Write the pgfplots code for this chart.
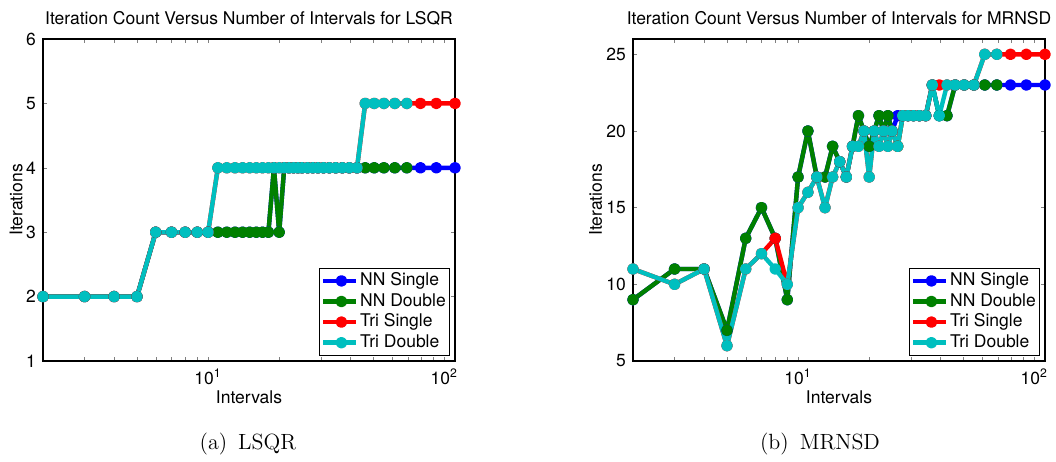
\documentclass[border=0pt]{standalone}
\usepackage{fontspec}
\usepackage{pgfplots}
\usepackage{pgfplotstable}
\pgfplotsset{compat=1.18}

\newfontfamily\helv{TeX Gyre Heros}
\newcommand{\axfont}{\helv\fontsize{8.75}{10.5}\selectfont}

\definecolor{mblue}{rgb}{0,0,1}
\definecolor{mgreen}{rgb}{0,0.5,0}
\definecolor{mred}{rgb}{1,0,0}
\definecolor{mcyan}{rgb}{0,0.75,0.75}

% iteration counts, LSQR
\pgfplotstableread{
x      nns nnd tris trid
2      2   2   2    2
3      2   2   2    2
4      2   2   2    2
5      2   2   2    2
6      3   3   3    3
7      3   3   3    3
8      3   3   3    3
9      3   3   3    3
10     3   3   3    3
11     3   3   4    4
12     3   3   4    4
13     3   3   4    4
14     3   3   4    4
15     3   3   4    4
16     3   3   4    4
17     3   3   4    4
18     3   3   4    4
19     4   4   4    4
20     3   3   4    4
21     4   4   4    4
22     4   4   4    4
23     4   4   4    4
24     4   4   4    4
25     4   4   4    4
26.4   4   4   4    4
27.75  4   4   4    4
29.2   4   4   4    4
30.8   4   4   4    4
32.6   4   4   4    4
34.7   4   4   4    4
37     4   4   4    4
39.6   4   4   4    4
42.7   4   4   4    4
46.25  4   4   5    5
50.5   4   4   5    5
55.5   4   4   5    5
61.7   4   4   5    5
69.4   4   4   5    5
79.3   4   nan 5    nan
92.5   4   nan 5    nan
111    4   nan 5    nan
}\lsqr

% iteration counts, MRNSD
\pgfplotstableread{
x      nns nnd tris trid
2      9   9   11   11
3      11  11  10   10
4      11  11  11   11
5      7   7   6    6
6      13  13  11   11
7      15  15  12   12
8      13  13  13   11
9      9   9   10   10
10     17  17  15   15
11     20  20  16   16
12     17  17  17   17
13     17  17  15   15
14     19  19  17   17
15     18  18  18   18
16     17  17  17   17
17     19  19  19   19
18     21  21  19   19
19     20  20  20   20
20     19  19  17   17
21     20  20  20   20
22     21  21  19   19
23     20  20  20   20
24     21  21  19   19
25     20  20  20   20
26.4   21  19  19   19
27.75  21  21  21   21
29.2   21  21  21   21
30.8   21  21  21   21
32.6   21  21  21   21
34.7   21  21  21   21
37     23  23  23   23
39.6   21  21  23   21
42.7   21  21  23   23
46.25  23  23  23   23
50.5   23  23  23   23
55.5   23  23  23   23
61.7   23  23  25   25
69.4   23  23  25   25
79.3   23  nan 25   nan
92.5   23  nan 25   nan
111    23  nan 25   nan
}\mrnsd

\tikzset{ser/.style={line width=2.2pt, line join=round, mark=*, mark size=1.8pt, mark options={solid}}}
\pgfplotsset{
  legend image code/.code={
    \path (-1.5pt,0pt) -- (15pt,0pt);
    \draw[mark repeat=2, mark phase=2, #1] plot coordinates {(0pt,0pt) (7.5pt,0pt) (15pt,0pt)};
  },
  every axis title/.style={at={(0.5,1)}, anchor=base, yshift=7.25pt, font=\axfont},
}

\begin{document}
\begin{tikzpicture}
  \path[use as bounding box] (0,0) rectangle (528pt,230.5pt);

  \begin{axis}[at={(21.5pt,50pt)}, anchor=south west,
      scale only axis, width=206pt, height=161pt,
      xmode=log, xmin=2, xmax=111,
      xtick={10,100}, xticklabels={10\textsuperscript{1},10\textsuperscript{2}},
      minor xtick={3,4,5,6,7,8,9,20,30,40,50,60,70,80,90},
      tick align=inside, major tick length=2pt, minor tick length=2pt,
      axis line style={line width=0.6pt},
      tick label style={font=\axfont},
      /pgf/number format/assume math mode=true,
      x tick label style={anchor=base, yshift=-12pt},
      xlabel={Intervals}, ylabel={Iterations},
      xlabel style={font=\axfont, at={(0.5,0)}, anchor=base, yshift=-21.5pt},
      ylabel style={font=\axfont, at={(-0.0655,0.5)}, anchor=center},
      legend style={at={(1,0)}, anchor=south east, xshift=-2.5pt, yshift=2.5pt,
        draw=black, line width=0.6pt, font=\axfont, inner xsep=1pt, inner ysep=1.2pt,
        row sep=0pt, cells={anchor=west},
        nodes={inner xsep=0.8pt, inner ysep=0.95pt, text height=6.5pt, text depth=1.9pt}},
      ymin=1, ymax=6, ytick={1,2,3,4,5,6},
      title={Iteration Count Versus Number of Intervals for LSQR}]
    \addplot[ser, mblue] table[x=x, y=nns] {\lsqr};
    \addplot[ser, mgreen] table[x=x, y=nnd] {\lsqr};
    \addplot[ser, mred] table[x=x, y=tris] {\lsqr};
    \addplot[ser, mcyan] table[x=x, y=trid] {\lsqr};
    \legend{NN Single, NN Double, Tri Single, Tri Double}
  \end{axis}

  \begin{axis}[at={(316.5pt,50pt)}, anchor=south west,
      scale only axis, width=206pt, height=161pt,
      xmode=log, xmin=2, xmax=111,
      xtick={10,100}, xticklabels={10\textsuperscript{1},10\textsuperscript{2}},
      minor xtick={3,4,5,6,7,8,9,20,30,40,50,60,70,80,90},
      tick align=inside, major tick length=2pt, minor tick length=2pt,
      axis line style={line width=0.6pt},
      tick label style={font=\axfont},
      /pgf/number format/assume math mode=true,
      x tick label style={anchor=base, yshift=-12pt},
      xlabel={Intervals}, ylabel={Iterations},
      xlabel style={font=\axfont, at={(0.5,0)}, anchor=base, yshift=-21.5pt},
      ylabel style={font=\axfont, at={(-0.091,0.5)}, anchor=center},
      legend style={at={(1,0)}, anchor=south east, xshift=-2.5pt, yshift=2.5pt,
        draw=black, line width=0.6pt, font=\axfont, inner xsep=1pt, inner ysep=1.2pt,
        row sep=0pt, cells={anchor=west},
        nodes={inner xsep=0.8pt, inner ysep=0.95pt, text height=6.5pt, text depth=1.9pt}},
      ymin=5, ymax=26, ytick={5,10,15,20,25},
      title={Iteration Count Versus Number of Intervals for MRNSD}]
    \addplot[ser, mblue] table[x=x, y=nns] {\mrnsd};
    \addplot[ser, mgreen] table[x=x, y=nnd] {\mrnsd};
    \addplot[ser, mred] table[x=x, y=tris] {\mrnsd};
    \addplot[ser, mcyan] table[x=x, y=trid] {\mrnsd};
    \legend{NN Single, NN Double, Tri Single, Tri Double}
  \end{axis}

  \node[font=\fontsize{11}{13}\selectfont, anchor=base] at (124pt,5.5pt) {(a)\enspace LSQR};
  \node[font=\fontsize{11}{13}\selectfont, anchor=base] at (410pt,5.5pt) {(b)\enspace MRNSD};
\end{tikzpicture}
\end{document}
